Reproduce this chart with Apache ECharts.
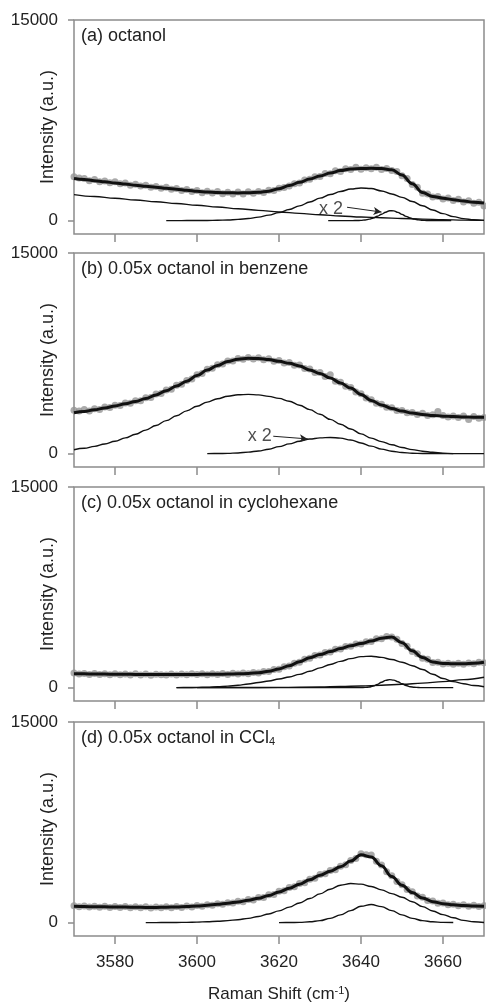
<!DOCTYPE html>
<html>
<head>
<meta charset="utf-8">
<script src="https://cdn.jsdelivr.net/npm/echarts@6/dist/echarts.min.js"></script>
<style>
html, body { margin: 0; padding: 0; background: #fff; }
#chart { width: 486px; height: 1002px; }
</style>
</head>
<body>
<div id="chart"></div>
<script>
// axis ranges and ticks
var xMin = 3570, xMax = 3670;
var yMin = -1000, yMax = 15000;
var xTicks = [3580, 3600, 3620, 3640, 3660];
var yTicks = [0, 15000];
var panelTitles = ["(a) octanol", "(b) 0.05x octanol in benzene", "(c) 0.05x octanol in cyclohexane", "(d) 0.05x octanol in CCl{sub|4}"];

// measured points, every 1.25 cm-1 from 3570
var dotStart = 3570, dotStep = 1.25;
var dotsA = [3280, 3190, 3150, 2990, 3080, 2900, 2960, 2830, 2900, 2760,
	2810, 2650, 2720, 2580, 2640, 2500, 2560, 2420, 2500, 2340,
	2410, 2250, 2330, 2180, 2260, 2090, 2200, 2060, 2170, 2010,
	2130, 2000, 2140, 1990, 2150, 2040, 2180, 2110, 2270, 2250,
	2420, 2480, 2580, 2760, 2820, 3030, 3090, 3280, 3300, 3520,
	3500, 3720, 3680, 3880, 3820, 3990, 3850, 3960, 3880, 3990,
	3830, 3900, 3740, 3680, 3350, 3150, 2700, 2490, 2050, 2000,
	1760, 1800, 1610, 1700, 1500, 1590, 1400, 1480, 1300, 1380,
	1100];
var dotsB = [3250, 3180, 3300, 3190, 3360, 3300, 3480, 3450, 3620, 3600,
	3780, 3760, 3960, 3950, 4180, 4200, 4450, 4500, 4760, 4820,
	5110, 5180, 5470, 5580, 5900, 5990, 6300, 6380, 6640, 6700,
	6920, 6930, 7110, 7050, 7180, 7070, 7160, 7010, 7090, 6900,
	6960, 6770, 6810, 6600, 6620, 6360, 6320, 6070, 6060, 5770,
	5900, 5420, 5340, 5040, 4950, 4610, 4480, 4150, 4030, 3760,
	3700, 3460, 3430, 3230, 3230, 3060, 3080, 2930, 3010, 2850,
	2900, 3150, 2850, 2740, 2820, 2700, 2810, 2560, 2780, 2650,
	2700];
var dotsC = [1090, 1010, 1060, 990, 1050, 980, 1040, 970, 1030, 960,
	1020, 950, 1030, 940, 1010, 930, 1000, 960, 940, 1010,
	950, 1020, 960, 1030, 980, 1040, 960, 1030, 990, 1060,
	980, 1070, 1010, 1100, 1040, 1130, 1090, 1210, 1200, 1350,
	1370, 1560, 1610, 1830, 1900, 2130, 2190, 2400, 2430, 2630,
	2660, 2860, 2880, 3080, 3090, 3270, 3260, 3430, 3440, 3650,
	3660, 3820, 3790, 3620, 3300, 3090, 2700, 2540, 2200, 2120,
	1870, 1900, 1760, 1830, 1740, 1820, 1750, 1850, 1790, 1900,
	1860];
var dotsD = [1260, 1180, 1250, 1160, 1230, 1150, 1220, 1140, 1210, 1130,
	1200, 1120, 1190, 1110, 1180, 1100, 1170, 1110, 1190, 1120,
	1210, 1140, 1240, 1160, 1280, 1230, 1330, 1300, 1410, 1370,
	1490, 1460, 1590, 1570, 1720, 1700, 1870, 1880, 2080, 2110,
	2340, 2380, 2620, 2680, 2920, 2990, 3250, 3320, 3590, 3650,
	3900, 3960, 4220, 4330, 4650, 4790, 5150, 5080, 5060, 4580,
	4300, 3800, 3500, 3070, 2840, 2470, 2300, 2000, 1890, 1660,
	1620, 1450, 1470, 1340, 1380, 1270, 1330, 1230, 1300, 1200,
	1270];

// total fit, every 2.5 cm-1 from 3570
var fitStart = 3570, fitStep = 2.5;
var fitA = [3150, 3080, 2990, 2900, 2820, 2730, 2650, 2570, 2500, 2420,
	2350, 2270, 2190, 2140, 2100, 2080, 2070, 2080, 2120, 2200,
	2390, 2620, 2860, 3110, 3340, 3560, 3740, 3860, 3900, 3910,
	3890, 3800, 3420, 2750, 2100, 1810, 1680, 1570, 1460, 1380, 1320];
var fitB = [3050, 3150, 3280, 3420, 3560, 3720, 3900, 4120, 4390, 4700,
	5050, 5420, 5840, 6250, 6590, 6880, 7060, 7130, 7110, 7030,
	6900, 6750, 6560, 6260, 5990, 5650, 5280, 4900, 4420, 3980,
	3640, 3380, 3180, 3030, 2930, 2850, 2800, 2770, 2740, 2720, 2720];
var fitC = [1040, 1030, 1020, 1010, 1000, 995, 990, 985, 980, 980,
	980, 985, 990, 995, 1000, 1010, 1030, 1060, 1110, 1230,
	1400, 1640, 1940, 2230, 2470, 2700, 2920, 3130, 3300, 3480,
	3700, 3780, 3350, 2750, 2250, 1920, 1810, 1780, 1790, 1830, 1900];
var fitD = [1220, 1200, 1190, 1180, 1170, 1160, 1150, 1140, 1140, 1150,
	1170, 1200, 1240, 1300, 1370, 1450, 1550, 1670, 1820, 2030,
	2290, 2570, 2870, 3200, 3540, 3850, 4170, 4600, 5080, 4900,
	4250, 3450, 2790, 2250, 1840, 1570, 1420, 1330, 1280, 1250, 1230];

// fitted components
var baseAX = [3570, 3575, 3580, 3585, 3590, 3595, 3600, 3605, 3610, 3615, 3620, 3625, 3630, 3635, 3640, 3645, 3650, 3655, 3660, 3665, 3670];
var baseAY = [1940, 1800, 1670, 1540, 1410, 1280, 1150, 1020, 890, 770, 650, 540, 440, 350, 270, 210, 160, 110, 70, 40, 20];
var mainAStart = 3592.5;
var mainAY = [0, 2, 4, 8, 14, 25, 45, 90, 160, 260, 410, 600, 830, 1100, 1390, 1680, 1950, 2180, 2360, 2440,
	2400, 2220, 1990, 1740, 1430, 1110, 800, 520, 300, 150, 60, 20];
var smallAStart = 3632;
var smallAY = [0, 0, 0, 0, 0, 0, 2, 8, 20, 50, 110, 200, 330, 480, 630, 740, 730, 620, 470, 320,
	200, 110, 55, 25, 10, 3, 0, 0, 0, 0, 0];

var bigBStart = 3570;
var bigBY = [290, 400, 540, 720, 930, 1180, 1450, 1760, 2100, 2470,
	2830, 3200, 3540, 3850, 4100, 4290, 4400, 4430, 4390, 4280,
	4130, 3920, 3620, 3290, 2940, 2560, 2200, 1840, 1480, 1160,
	900, 660, 460, 300, 180, 100, 40, 0];
var smallBStart = 3602.5;
var smallBY = [0, 5, 20, 50, 110, 200, 330, 520, 730, 930,
	1090, 1180, 1210, 1160, 1020, 800, 560, 340, 180, 80,
	30, 10, 3, 0, 0, 0, 0, 0];

var mainCStart = 3595;
var mainCY = [0, 5, 15, 30, 60, 110, 180, 270, 380, 500,
	640, 800, 990, 1220, 1480, 1730, 1960, 2170, 2320, 2350,
	2260, 2100, 1900, 1640, 1350, 1000, 680, 450, 290, 160, 70];
var smallCX = [3595, 3640, 3641, 3642, 3643, 3644, 3645, 3646, 3647, 3648, 3649, 3650, 3651, 3652, 3653, 3654, 3655, 3662.5];
var smallCY = [0, 0, 15, 50, 120, 240, 400, 540, 600, 560, 440, 290, 160, 70, 25, 5, 0, 0];
var riseCX = [3600, 3610, 3620, 3630, 3635, 3640, 3645, 3650, 3655, 3660, 3665, 3670];
var riseCY = [0, 5, 20, 50, 80, 120, 180, 250, 340, 450, 600, 780];

var broadDStart = 3587.5;
var broadDY = [0, 3, 6, 12, 22, 40, 65, 100, 150, 220,
	320, 460, 650, 880, 1160, 1470, 1800, 2150, 2500, 2800,
	2920, 2880, 2700, 2450, 2170, 1900, 1560, 1200, 870, 600,
	360, 170, 60, 10];
var narrowDStart = 3620;
var narrowDY = [0, 5, 20, 60, 150, 320, 580, 900, 1220, 1350, 1200, 900, 580, 320, 150, 60, 20, 5];

// "x 2" notes: label point and arrow ends, in data units
var noteA = { label: [3632.7, 900], from: [3636.6, 1000], to: [3645, 640] };
var noteB = { label: [3615.3, 1340], from: [3618.6, 1300], to: [3627, 1100] };

var font = "'Liberation Sans', Arial, sans-serif";
var gridTops = [20, 253, 487, 722];
var gridH = 214;
var lineCol = "#8c8c8c";
var textCol = "#222";

function steps(start, step, ys) {
	var out = [];
	for (var i = 0; i < ys.length; i++) {
		out.push([start + step * i, ys[i]]);
	}
	return out;
}

function zip(xs, ys) {
	var out = [];
	for (var i = 0; i < xs.length; i++) {
		out.push([xs[i], ys[i]]);
	}
	return out;
}

function plain(v) {
	return String(v);
}

var chart = echarts.init(document.getElementById("chart"));

var grids = [];
var xAxes = [];
var yAxes = [];
var titles = [];
for (var g = 0; g < 4; g++) {
	var last = g == 3;
	grids.push({
		left: 74,
		width: 410,
		top: gridTops[g],
		height: gridH,
		show: true,
		borderColor: lineCol,
		borderWidth: 1.5,
		containLabel: false,
		outerBoundsMode: "none",
	});
	xAxes.push({
		type: "value",
		gridIndex: g,
		min: xMin,
		max: xMax,
		splitLine: { show: false },
		axisLine: { show: false, onZero: false },
		axisTick: {
			show: true,
			inside: false,
			length: 8,
			customValues: xTicks,
			lineStyle: { color: lineCol, width: 1.5 },
		},
		axisLabel: {
			show: last,
			customValues: xTicks,
			formatter: plain,
			margin: 18,
			fontSize: 17,
			color: textCol,
			fontFamily: font,
		},
		name: last ? "Raman Shift (cm{sup|-1})" : "",
		nameLocation: "middle",
		nameGap: 49,
		nameMoveOverlap: false,
		nameTextStyle: {
			fontSize: 17,
			color: textCol,
			fontFamily: font,
			rich: {
				sup: { fontSize: 11, verticalAlign: "top", color: textCol, fontFamily: font, padding: [0, 0, 8, 0] },
			},
		},
	});
	yAxes.push({
		type: "value",
		gridIndex: g,
		min: yMin,
		max: yMax,
		splitLine: { show: false },
		axisLine: { show: false, onZero: false },
		axisTick: {
			show: true,
			inside: false,
			length: 6,
			customValues: yTicks,
			lineStyle: { color: lineCol, width: 1.5 },
		},
		axisLabel: {
			customValues: yTicks,
			formatter: plain,
			margin: 16,
			fontSize: 17,
			color: textCol,
			fontFamily: font,
		},
		name: "Intensity (a.u.)",
		nameLocation: "middle",
		nameRotate: 90,
		nameGap: 17,
		nameMoveOverlap: false,
		nameTextStyle: { fontSize: 18, color: textCol, fontFamily: font },
	});
	titles.push({
		text: panelTitles[g],
		left: 81,
		top: gridTops[g] + 7,
		padding: 0,
		textStyle: {
			fontSize: 18,
			fontWeight: "normal",
			color: textCol,
			fontFamily: font,
			rich: {
				sub: { fontSize: 11, verticalAlign: "bottom", color: textCol, fontFamily: font, padding: [6, 0, 0, 0] },
			},
		},
	});
}

function dots(g, ys) {
	return {
		type: "scatter",
		xAxisIndex: g,
		yAxisIndex: g,
		data: steps(dotStart, dotStep, ys),
		symbolSize: 7,
		itemStyle: { color: "#959595" },
		z: 1,
	};
}

function curve(g, data, width) {
	return {
		type: "line",
		xAxisIndex: g,
		yAxisIndex: g,
		data: data,
		smooth: 0.4,
		smoothMonotone: "x",
		showSymbol: false,
		symbol: "none",
		lineStyle: { color: "#111", width: width },
		z: width > 2 ? 4 : 3,
	};
}

function note(g, n) {
	return {
		type: "scatter",
		xAxisIndex: g,
		yAxisIndex: g,
		data: [n.label],
		symbolSize: 0,
		label: {
			show: true,
			position: "inside",
			formatter: "x 2",
			fontSize: 18,
			color: textCol,
			fontFamily: font,
		},
		markLine: {
			silent: true,
			symbol: ["none", "arrow"],
			symbolSize: [6, 8],
			label: { show: false },
			lineStyle: { color: "#222", width: 1, type: "solid" },
			data: [[{ coord: n.from }, { coord: n.to }]],
		},
		z: 5,
	};
}

var series = [
	dots(0, dotsA),
	curve(0, zip(baseAX, baseAY), 1.4),
	curve(0, steps(mainAStart, 2.5, mainAY), 1.4),
	curve(0, steps(smallAStart, 1, smallAY), 1.4),
	curve(0, steps(fitStart, fitStep, fitA), 3),
	note(0, noteA),

	dots(1, dotsB),
	curve(1, steps(bigBStart, 2.5, bigBY), 1.4),
	curve(1, steps(smallBStart, 2.5, smallBY), 1.4),
	curve(1, steps(fitStart, fitStep, fitB), 3),
	note(1, noteB),

	dots(2, dotsC),
	curve(2, steps(mainCStart, 2.5, mainCY), 1.4),
	curve(2, zip(smallCX, smallCY), 1.4),
	curve(2, zip(riseCX, riseCY), 1.4),
	curve(2, steps(fitStart, fitStep, fitC), 3),

	dots(3, dotsD),
	curve(3, steps(broadDStart, 2.5, broadDY), 1.4),
	curve(3, steps(narrowDStart, 2.5, narrowDY), 1.4),
	curve(3, steps(fitStart, fitStep, fitD), 3),
];

chart.setOption({
	animation: false,
	backgroundColor: "#fff",
	title: titles,
	grid: grids,
	xAxis: xAxes,
	yAxis: yAxes,
	series: series,
});
</script>
</body>
</html>
